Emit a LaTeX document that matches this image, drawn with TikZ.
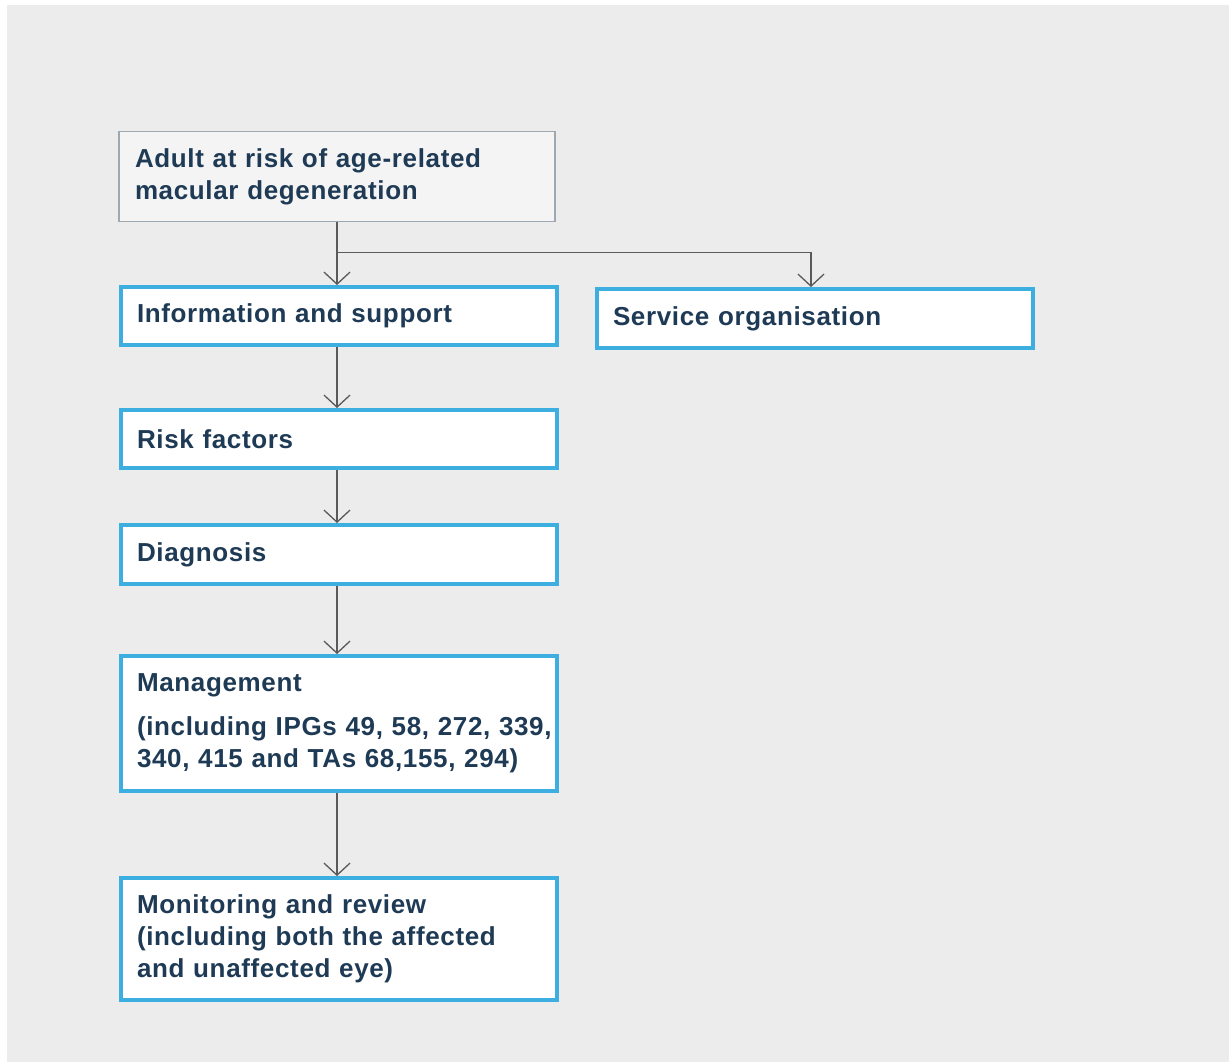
\documentclass[tikz,border=0pt]{standalone}
\usepackage{fontspec}
\setmainfont{Liberation Sans}[LetterSpace=2.5]
\usetikzlibrary{arrows.meta}
\definecolor{bggray}{HTML}{ECECEC}
\definecolor{boxblue}{HTML}{3DAEE0}
\definecolor{txtnavy}{HTML}{1E3A55}
\definecolor{topfill}{HTML}{F4F4F4}
\definecolor{topdraw}{HTML}{9EA8B2}
\definecolor{linegray}{HTML}{5A5A5A}
\tikzset{
  stepbox/.style={draw=boxblue, line width=4pt, fill=white, rectangle,
    minimum width=436pt, text width=404pt, inner xsep=16pt, inner ysep=0pt,
    align=left, text=txtnavy, font=\fontsize{26}{32}\selectfont\bfseries},
  startbox/.style={stepbox, draw=topdraw, line width=1.8pt, fill=topfill},
  conn/.style={draw=linegray, line width=1.5pt, -{Straight Barb[length=12pt,width=26pt,line width=1.3pt]}}
}
\begin{document}
\begin{tikzpicture}[x=1pt,y=-1pt]
\useasboundingbox (0,0) rectangle (1232,1062);
\fill[bggray] (7,5) rectangle (1229,1062);
\node[startbox, minimum height=90pt] (top) at (337,176.5) {Adult at risk of age-related\\macular degeneration};
\node[stepbox, minimum height=58pt] (info) at (339,316) {Information and support};
\node[stepbox, minimum height=59pt] (svc) at (815,318.5) {Service organisation};
\node[stepbox, minimum height=58pt] (risk) at (339,439) {Risk factors};
\node[stepbox, minimum height=59pt] (diag) at (339,554.5) {Diagnosis};
\node[stepbox, minimum height=135pt] (mgmt) at (339,723.5) {Management\\[12pt]\mbox{(including IPGs 49, 58, 272, 339,}\\340, 415 and TAs 68,155, 294)};
\node[stepbox, minimum height=122pt] (mon) at (339,939) {Monitoring and review\\(including both the affected\\and unaffected eye)};
\coordinate (br) at ([yshift=-30pt]top.south);
\draw[conn] (top.south) -- (top.south |- info.north);
\draw[conn] (br) -| ([xshift=-4pt]svc.north);
\draw[conn] (top.south |- info.south) -- (top.south |- risk.north);
\draw[conn] (top.south |- risk.south) -- (top.south |- diag.north);
\draw[conn] (top.south |- diag.south) -- (top.south |- mgmt.north);
\draw[conn] (top.south |- mgmt.south) -- (top.south |- mon.north);
\end{tikzpicture}
\end{document}
